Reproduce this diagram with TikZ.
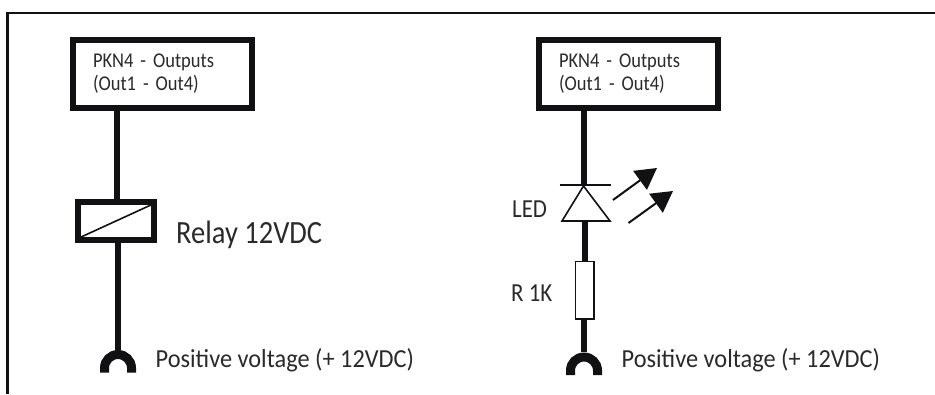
\documentclass[tikz,border=0pt]{standalone}
\usepackage{fontspec}
\setmainfont{Carlito}[FakeStretch=0.88]
\newfontfamily\posfont{Carlito}[FakeStretch=0.936]
\usetikzlibrary{arrows.meta}
\definecolor{ink}{HTML}{111114}
\definecolor{txt}{HTML}{2A2A2A}
\tikzset{
  wire/.style={draw=ink,line width=6pt},
  outbox/.style={draw=ink,fill=white,line width=6pt,minimum width=179pt,minimum height=68pt,inner xsep=20.5pt,inner ysep=0pt,text width=138pt,align=left,text=txt,font=\fontsize{21}{23.5}\selectfont},
  relaybox/.style={draw=ink,fill=white,line width=6pt,minimum width=76pt,minimum height=38pt,inner sep=0pt},
  thin/.style={draw=ink,line width=1.6pt},
  resbox/.style={draw=ink,fill=white,line width=1.6pt,minimum width=18.5pt,minimum height=57.5pt,inner sep=0pt},
  lab/.style={anchor=base west,inner sep=0pt,text=txt,font=\posfont\fontsize{26}{28}\selectfont},
  midlab/.style={anchor=base west,inner sep=0pt,text=txt,font=\fontsize{26}{28}\selectfont},
  biglab/.style={anchor=base west,inner sep=0pt,text=txt,font=\fontsize{32.4}{36}\selectfont},
  lightarrow/.style={draw=ink,line width=2pt,-{Triangle[length=21pt,width=23pt,fill=ink]}},
  term/.style={draw=ink,line width=9pt}
}
\begin{document}
\begin{tikzpicture}[x=1pt,y=-1pt]
\useasboundingbox (0,0) rectangle (935,394);
% frame
\coordinate (fa) at (7.5,394);
\coordinate (fb) at (7.5,13);
\coordinate (fc) at (935,13);
\draw[draw=ink,line width=2.4pt] (fa) -- (fb) -- (fc);

% left circuit
\node[outbox] (box1) at (162,73.5) {\raisebox{-2pt}{PKN4 - Outputs}\\\raisebox{-2pt}{(Out1 - Out4)}};
\node[relaybox] (relay) at (116,221) {};
\coordinate (t1) at (118,350);
\draw[wire] (117,110) -- (117,200);
\draw[wire] (118,243) -- (t1);
\draw[thin] (80,237.5) -- (152,204.5);
\draw[term] (104.5,372.5) -- (104.5,368) arc[start angle=180,end angle=360,radius=13.5] -- (131.5,372.5);
\node[biglab] (rl) at (176,243) {Relay 12VDC};
\node[lab] (pv1) at (155.5,367.5) {Positive voltage (+ 12VDC)};

% right circuit
\node[outbox] (box2) at (628,73.5) {\raisebox{-2pt}{PKN4 - Outputs}\\\raisebox{-2pt}{(Out1 - Out4)}};
\coordinate (ledk) at (584,185);
\coordinate (leda) at (584,221);
\coordinate (ledl) at (562,221);
\coordinate (ledr) at (610,221);
\coordinate (ledt) at (583.5,186);
\coordinate (barl) at (559.5,185);
\coordinate (barr) at (610.5,185);
\node[resbox] (res) at (584.8,290.3) {};
\coordinate (t2) at (584,352);
\draw[wire] (box2.south -| ledk) -- (ledk);
\draw[thin] (barl) -- (barr);
\draw[thin,fill=white,line join=miter] (ledt) -- (ledl) -- (ledr) -- cycle;
\draw[wire] (leda) ++(0.5,0) -- (584.5,261.5);
\draw[wire] (584,319) -- (t2);
\draw[term] (570.5,375) -- (570.5,370.5) arc[start angle=180,end angle=360,radius=13.5] -- (597.5,375);
\coordinate (a1s) at (613,200);
\coordinate (a1e) at (657,168);
\coordinate (a2s) at (628.5,223);
\coordinate (a2e) at (673,191);
\draw[lightarrow] (a1s) -- (a1e);
\draw[lightarrow] (a2s) -- (a2e);
\node[midlab] (led) at (512,217.5) {LED};
\node[midlab] (r1k) at (511,301.5) {R 1K};
\node[lab] (pv2) at (621.5,367.5) {Positive voltage (+ 12VDC)};
\end{tikzpicture}
\end{document}
